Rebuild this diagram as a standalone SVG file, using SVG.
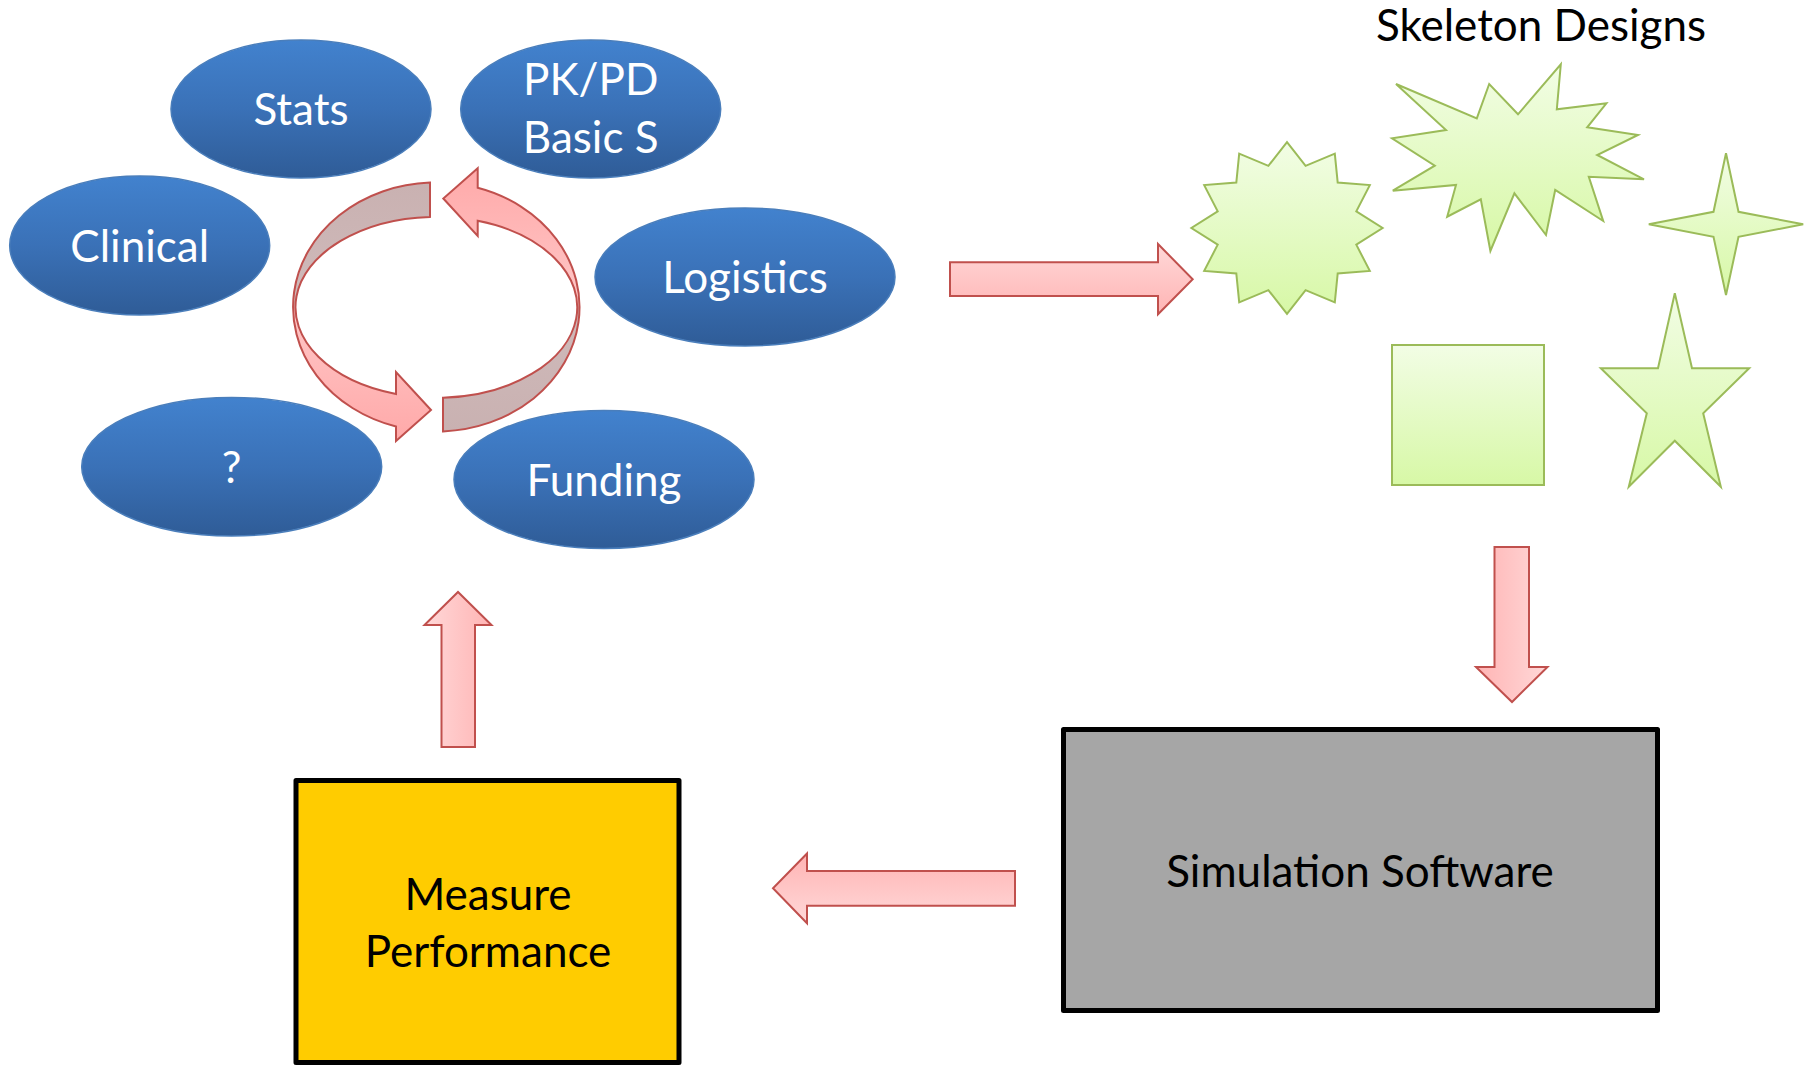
<svg xmlns="http://www.w3.org/2000/svg" width="1811" height="1065" viewBox="0 0 1811 1065">
<defs>
<linearGradient id="gBlue" x1="0" y1="0" x2="0" y2="1">
<stop offset="0" stop-color="#4282ce"/>
<stop offset="0.5" stop-color="#3a71b7"/>
<stop offset="1" stop-color="#2f5c97"/>
</linearGradient>
<linearGradient id="gGreen" x1="0" y1="0" x2="0" y2="1">
<stop offset="0" stop-color="#f2fde5"/>
<stop offset="1" stop-color="#d7f8a6"/>
</linearGradient>
<linearGradient id="gPinkV" x1="0" y1="0" x2="0" y2="1">
<stop offset="0" stop-color="#ffd8d8"/>
<stop offset="1" stop-color="#ffb4b4"/>
</linearGradient>
<linearGradient id="gPinkVr" x1="0" y1="1" x2="0" y2="0">
<stop offset="0" stop-color="#ffd8d8"/>
<stop offset="1" stop-color="#ffb4b4"/>
</linearGradient>
<linearGradient id="gPinkH" x1="1" y1="0" x2="0" y2="0">
<stop offset="0" stop-color="#ffd8d8"/>
<stop offset="1" stop-color="#ffb4b4"/>
</linearGradient>
<linearGradient id="gPinkHr" x1="0" y1="0" x2="1" y2="0">
<stop offset="0" stop-color="#ffd8d8"/>
<stop offset="1" stop-color="#ffb4b4"/>
</linearGradient>
<linearGradient id="gCircL" gradientUnits="userSpaceOnUse" x1="0" y1="183" x2="0" y2="441">
<stop offset="0" stop-color="#c9b1b1"/>
<stop offset="0.46" stop-color="#cfbaba"/>
<stop offset="0.5" stop-color="#ffc6c6"/>
<stop offset="1" stop-color="#ffa9a9"/>
</linearGradient>
<linearGradient id="gCircR" gradientUnits="userSpaceOnUse" x1="0" y1="168" x2="0" y2="432">
<stop offset="0" stop-color="#ffa9a9"/>
<stop offset="0.5" stop-color="#ffc6c6"/>
<stop offset="0.54" stop-color="#cfbaba"/>
<stop offset="1" stop-color="#c9b1b1"/>
</linearGradient>
</defs>
<style>
.ell{fill:url(#gBlue);stroke:#4a7ebb;stroke-width:1.5}
.wt{fill:#ffffff;font-family:Lato,'Open Sans',sans-serif;font-size:44px;text-anchor:middle}
.bt{fill:#000000;font-family:Lato,'Open Sans',sans-serif;font-size:44px;text-anchor:middle}
.grn{fill:url(#gGreen);stroke:#9bbb59;stroke-width:2;stroke-linejoin:miter}
.arr{stroke:#c0504d;stroke-width:2;stroke-linejoin:miter}
.box{stroke:#000000;stroke-width:5;stroke-linejoin:round}
</style>
<rect x="0" y="0" width="1811" height="1065" fill="#ffffff"/>

<g id="node-stats">
<ellipse class="ell" cx="301" cy="109" rx="130" ry="69"/>
<text class="wt" x="301" y="125">Stats</text>
</g>
<g id="node-pkpd">
<ellipse class="ell" cx="590.7" cy="109" rx="130" ry="69"/>
<text class="wt" x="590.7" y="95">PK/PD</text>
<text class="wt" x="590.7" y="153">Basic S</text>
</g>
<g id="node-clinical">
<ellipse class="ell" cx="139.7" cy="245.5" rx="130" ry="69.5"/>
<text class="wt" x="139.7" y="261.5">Clinical</text>
</g>
<g id="node-logistics">
<ellipse class="ell" cx="745" cy="277" rx="150" ry="69"/>
<text class="wt" x="745" y="293.3">Logistics</text>
</g>
<g id="node-unknown">
<ellipse class="ell" cx="231.7" cy="466.7" rx="150" ry="69.3"/>
<text class="wt" x="231.7" y="483">?</text>
</g>
<g id="node-funding">
<ellipse class="ell" cx="604" cy="479.5" rx="150" ry="69"/>
<text class="wt" x="604" y="495.5">Funding</text>
</g>

<g id="node-skeleton-designs">
<text class="bt" x="1541" y="40.7">Skeleton Designs</text>
<polygon class="grn" points="1287,142.2 1305.6,165.8 1334.8,153.7 1337.7,182.5 1369.8,185.1 1356.3,211.3 1382.6,228 1356.3,244.7 1369.8,270.9 1337.7,273.5 1334.8,302.3 1305.6,290.2 1287,313.8 1268.4,290.2 1239.2,302.3 1236.3,273.5 1204.2,270.9 1217.7,244.7 1191.4,228 1217.7,211.3 1204.2,185.1 1236.3,182.5 1239.2,153.7 1268.4,165.8"/>
<polygon class="grn" points="1396,84 1476.8,118.3 1489.2,84 1518,114.3 1560.8,64.3 1556.8,109.3 1606.4,103.3 1587.2,127.3 1638,135 1597.2,155 1644,179.3 1588.8,176.7 1603.2,221 1555.2,190 1546,235 1514.4,193.3 1490.4,251 1480.8,199.3 1447.2,216.7 1456,185 1392.8,190.7 1434.8,165.7 1392,138.3 1446,130"/>
<polygon class="grn" points="1726,153.3 1738.5,211.8 1803.2,224.3 1738.5,236.8 1726,295 1713.5,236.8 1648.8,224.3 1713.5,211.8"/>
<rect class="grn" x="1392" y="345" width="152" height="140"/>
<polygon class="grn" points="1674.8,293.3 1692,368.3 1749.2,368.3 1703.2,413.3 1720.8,486.7 1674.8,440.7 1628.8,486.7 1646.8,413.3 1600.8,368.3 1658,368.3"/>
</g>

<g id="node-simulation">
<rect class="box" x="1063.5" y="729.5" width="594" height="281" fill="#a6a6a6"/>
<text class="bt" x="1360" y="887.3">Simulation Software</text>
</g>

<g id="node-measure">
<rect class="box" x="296" y="780.5" width="383" height="282" fill="#ffcc00"/>
<text class="bt" x="488" y="910">Measure</text>
<text class="bt" x="488" y="966.7">Performance</text>
</g>

<g id="connectors">
<path class="arr" fill="url(#gCircL)" d="M430,182.6 A143,124.5 0 0 0 396,426.5 L396,441 L431,410 L396,372 L396,394 A141,90.5 0 0 1 430,216.9 Z"/>
<path class="arr" fill="url(#gCircR)" d="M443,431.4 A143,124.5 0 0 0 477.7,187.8 L477.7,168.3 L443.3,198.5 L477.7,236 L477.7,220.8 A141,90.5 0 0 1 443,397.7 Z"/>
<polygon class="arr" fill="url(#gPinkV)" points="950,262.3 1158,262.3 1158,244 1192.7,279.3 1158,314.3 1158,296 950,296"/>
<polygon class="arr" fill="url(#gPinkH)" points="1494.5,547 1529,547 1529,667 1547.5,667 1512,702 1476,667 1494.5,667"/>
<polygon class="arr" fill="url(#gPinkVr)" points="1015,871 807,871 807,853.5 773,888.3 807,923.3 807,905.7 1015,905.7"/>
<polygon class="arr" fill="url(#gPinkHr)" points="441.5,747 441.5,625 424.5,625 458,592 491.5,625 475,625 475,747"/>
</g>
</svg>
